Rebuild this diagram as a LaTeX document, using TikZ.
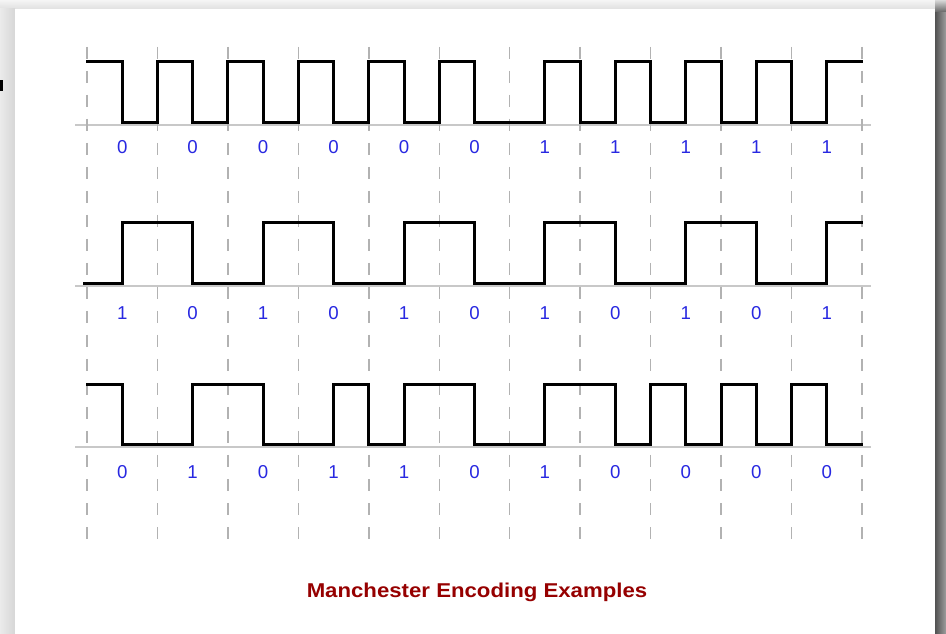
\documentclass[tikz,border=0pt]{standalone}
\usepackage{fontspec}
\setmainfont{Liberation Sans}
\usepackage{graphicx}
\definecolor{lblblue}{RGB}{40,40,225}
\definecolor{ttlred}{RGB}{150,0,0}
\definecolor{dashgray}{RGB}{178,178,178}
\definecolor{basegray}{RGB}{200,200,200}
\definecolor{bggray}{RGB}{236,236,236}
\tikzset{
  sig/.style={draw=black, line width=2.25pt, line join=miter, line cap=rect},
  gridv/.style={draw=dashgray, line width=1.1pt, dash pattern=on 9pt off 9pt},
  baseln/.style={draw=basegray, line width=1pt},
  lbl/.style={text=lblblue, inner sep=0pt, anchor=base, font=\fontsize{14}{16}\selectfont},
  ttl/.style={text=ttlred, inner sep=0pt, anchor=base, font=\bfseries\fontsize{15}{18}\selectfont}
}
\begin{document}
\begin{tikzpicture}[x=0.75pt, y=-0.75pt]
\useasboundingbox (0,0) rectangle (946,634);
% background and panel
\fill[bggray] (0,0) rectangle (946,634);
\shade[top color=white!96!black, bottom color=white!88!black] (0,0) rectangle (946,9);
\shade[left color=white!92!black, right color=white!84!black] (0,9) rectangle (15,634);
\shade[left color=black!68, right color=black!38] (935,12) rectangle (946,634);
\shade[top color=white!85!black, bottom color=black!60] (935,0) rectangle (946,12);
\fill[black] (0,80) rectangle (2.5,91);
\fill[white] (15,9) rectangle (935,634);
% baselines
\draw[baseln] (75,125) -- (871,125);
\draw[baseln] (75,286) -- (871,286);
\draw[baseln] (75,447) -- (871,447);
\begin{scope}[xshift=65.25pt, x=52.8375pt]
% dashed verticals
\foreach \i in {0,...,11} {
  \coordinate (vt\i) at (\i,47);
  \coordinate (vb\i) at (\i,541);
  \draw[gridv] (vt\i) -- (vb\i);
}
% row 1: 0 0 0 0 0 0 1 1 1 1 1
\draw[sig] (0,62) -- (0.5,62) -- (0.5,123) -- (1,123) -- (1,62) -- (1.5,62) -- (1.5,123) -- (2,123) -- (2,62) -- (2.5,62) -- (2.5,123) -- (3,123) -- (3,62) -- (3.5,62) -- (3.5,123) -- (4,123) -- (4,62) -- (4.5,62) -- (4.5,123) -- (5,123) -- (5,62) -- (5.5,62) -- (5.5,123) -- (6.5,123) -- (6.5,62) -- (7,62) -- (7,123) -- (7.5,123) -- (7.5,62) -- (8,62) -- (8,123) -- (8.5,123) -- (8.5,62) -- (9,62) -- (9,123) -- (9.5,123) -- (9.5,62) -- (10,62) -- (10,123) -- (10.5,123) -- (10.5,62) -- (11,62);
% row 2: 1 0 1 0 1 0 1 0 1 0 1
\draw[sig] (-0.04,284) -- (0.5,284) -- (0.5,223) -- (1.5,223) -- (1.5,284) -- (2.5,284) -- (2.5,223) -- (3.5,223) -- (3.5,284) -- (4.5,284) -- (4.5,223) -- (5.5,223) -- (5.5,284) -- (6.5,284) -- (6.5,223) -- (7.5,223) -- (7.5,284) -- (8.5,284) -- (8.5,223) -- (9.5,223) -- (9.5,284) -- (10.5,284) -- (10.5,223) -- (11,223);
% row 3: 0 1 0 1 1 0 1 0 0 0 0
\draw[sig] (0,385) -- (0.5,385) -- (0.5,445) -- (1.5,445) -- (1.5,385) -- (2.5,385) -- (2.5,445) -- (3.5,445) -- (3.5,385) -- (4,385) -- (4,445) -- (4.5,445) -- (4.5,385) -- (5.5,385) -- (5.5,445) -- (6.5,445) -- (6.5,385) -- (7.5,385) -- (7.5,445) -- (8,445) -- (8,385) -- (8.5,385) -- (8.5,445) -- (9,445) -- (9,385) -- (9.5,385) -- (9.5,445) -- (10,445) -- (10,385) -- (10.5,385) -- (10.5,445) -- (11,445);
% labels
\foreach \b [count=\i from 0] in {0,0,0,0,0,0,1,1,1,1,1}
  \node[lbl] (ra\i) at (\i+0.5,154) {\b};
\foreach \b [count=\i from 0] in {1,0,1,0,1,0,1,0,1,0,1}
  \node[lbl] (rb\i) at (\i+0.5,320) {\b};
\foreach \b [count=\i from 0] in {0,1,0,1,1,0,1,0,0,0,0}
  \node[lbl] (rc\i) at (\i+0.5,479) {\b};
\end{scope}
\node[ttl] (title) at (477,597) {\scalebox{1.11}[1]{Manchester Encoding Examples}};
\end{tikzpicture}
\end{document}
